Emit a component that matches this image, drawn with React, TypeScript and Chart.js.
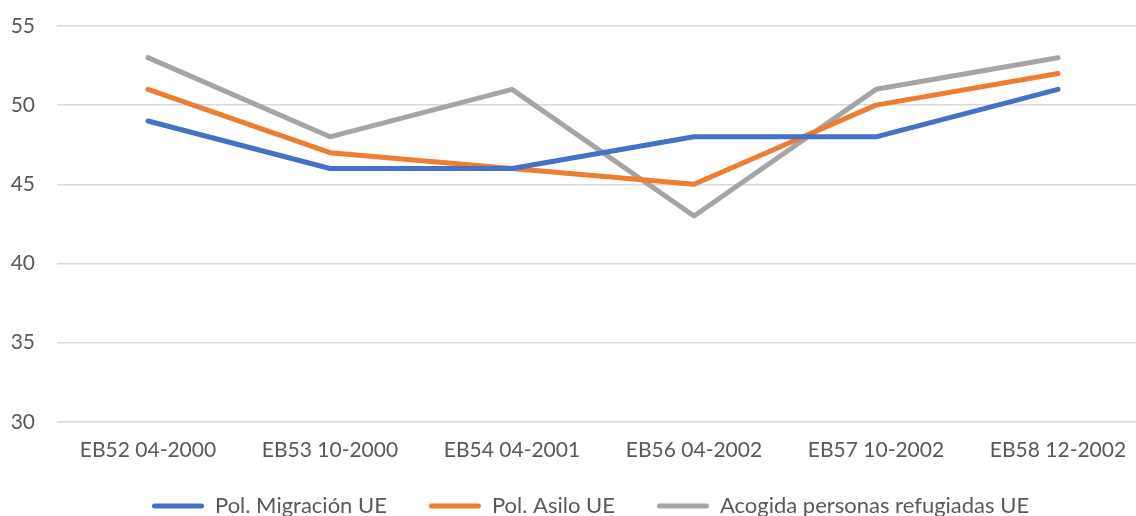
import React, { useEffect, useRef } from "react";
import { Chart, registerables } from "chart.js";

Chart.register(...registerables);

const categories = [
  "EB52 04-2000",
  "EB53 10-2000",
  "EB54 04-2001",
  "EB56 04-2002",
  "EB57 10-2002",
  "EB58 12-2002",
];
const migracion = [49, 46, 46, 48, 48, 51];
const asilo = [51, 47, 46, 45, 50, 52];
const acogida = [53, 48, 51, 43, 51, 53];
const yTicks = [30, 35, 40, 45, 50, 55];

const FONT = "Lato, 'Noto Sans', sans-serif";
const TEXT = "#595959";
const FS = 21;
const LEGEND_FS = 22;
const LEGEND_PAD = 42;

export default function App() {
  const ref = useRef<HTMLCanvasElement | null>(null);
  useEffect(() => {
    if (!ref.current) return;
    const mk = (label: string, data: number[], color: string) => ({
      label,
      data,
      borderColor: color,
      backgroundColor: color,
      borderWidth: 5,
      borderCapStyle: "round" as const,
      borderJoinStyle: "round" as const,
      pointRadius: 0,
      pointHoverRadius: 0,
      tension: 0,
      fill: false,
    });
    const legendPos = {
      id: "legendPos",
      afterLayout(chart: any) {
        const lg = chart.legend;
        if (lg) {
          const w = lg.right - lg.left;
          const h = lg.bottom - lg.top;
          lg.left = 152 - LEGEND_PAD;
          lg.right = lg.left + w;
          lg.top = 495 - LEGEND_PAD;
          lg.bottom = lg.top + h;
        }
      },
    };
    const chart = new Chart(ref.current, {
      type: "line",
      data: {
        labels: categories,
        datasets: [
          mk("Pol. Migración UE", migracion, "#4472C4"),
          mk("Pol. Asilo UE", asilo, "#ED7D31"),
          mk("Acogida personas refugiadas UE", acogida, "#A5A5A5"),
        ],
      },
      plugins: [legendPos],
      options: {
        responsive: false,
        animation: false,
        events: [],
        layout: { padding: { left: 10, top: 26, right: 11, bottom: 0 } },
        scales: {
          x: {
            offset: true,
            grid: { display: false, drawTicks: false },
            border: { display: false },
            afterFit: (s: any) => {
              s.paddingLeft = 0;
              s.paddingRight = 0;
            },
            ticks: {
              color: TEXT,
              font: { family: FONT, size: FS },
              padding: 16,
              maxRotation: 0,
              autoSkip: false,
            },
          },
          y: {
            min: 30,
            max: 55,
            afterBuildTicks: (axis: any) => {
              axis.ticks = yTicks.map((v) => ({ value: v }));
            },
            afterFit: (s: any) => {
              s.paddingTop = 0;
              s.paddingBottom = 0;
              s.width = 47;
            },
            grid: { color: "#D9D9D9", lineWidth: 1.5, drawTicks: false },
            border: { display: false },
            ticks: {
              color: TEXT,
              font: { family: FONT, size: FS },
              padding: 22,
            },
          },
        },
        plugins: {
          tooltip: { enabled: false },
          legend: {
            position: "bottom",
            align: "start",
            labels: {
              color: TEXT,
              font: { family: FONT, size: LEGEND_FS },
              boxWidth: 52,
              boxHeight: 5,
              padding: LEGEND_PAD,
              generateLabels: (c: any) =>
                Chart.defaults.plugins.legend.labels
                  .generateLabels(c)
                  .map((it: any) => ({
                    ...it,
                    fillStyle: it.strokeStyle,
                    lineWidth: 0,
                    borderRadius: 2.5,
                  })),
            },
          },
        },
      },
    });
    return () => chart.destroy();
  }, []);
  return (
    <div
      style={{
        position: "fixed",
        left: 0,
        top: 0,
        width: 1136,
        height: 516,
        overflow: "hidden",
        background: "#fff",
      }}
    >
      <canvas
        ref={ref}
        width={1160}
        height={553}
        style={{ width: 1160, height: 553, display: "block" }}
      />
    </div>
  );
}
